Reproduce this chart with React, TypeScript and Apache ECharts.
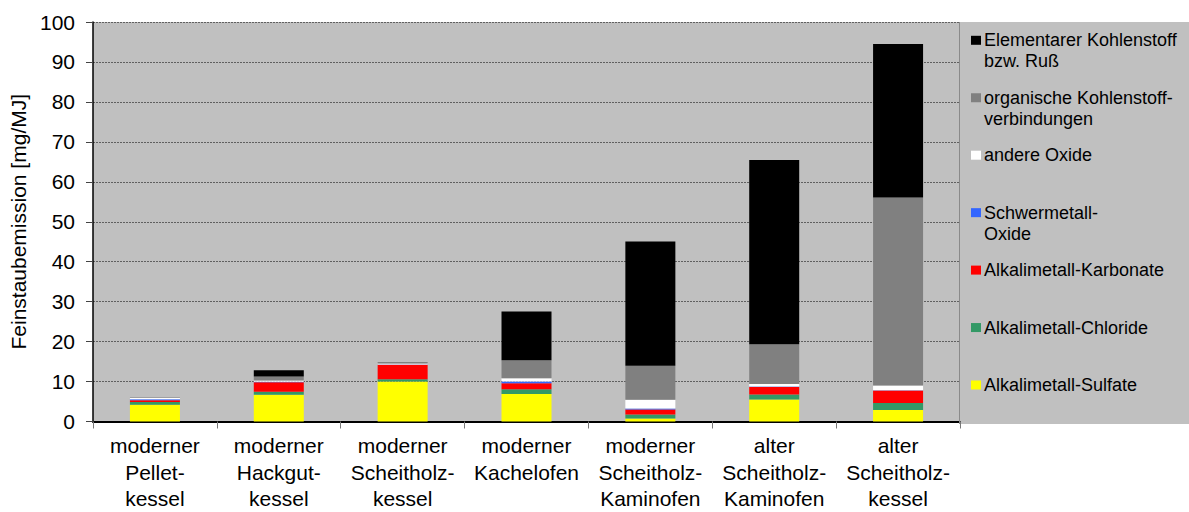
import React, { useEffect, useRef } from "react";
import * as echarts from "echarts";

const categories = [
  "moderner\nPellet-\nkessel",
  "moderner\nHackgut-\nkessel",
  "moderner\nScheitholz-\nkessel",
  "moderner\nKachelofen",
  "moderner\nScheitholz-\nKaminofen",
  "alter\nScheitholz-\nKaminofen",
  "alter\nScheitholz-\nkessel",
];

const seriesNames = [
  "Alkalimetall-Sulfate",
  "Alkalimetall-Chloride",
  "Alkalimetall-Karbonate",
  "Schwermetall-Oxide",
  "andere Oxide",
  "organische Kohlenstoffverbindungen",
  "Elementarer Kohlenstoff bzw. Ruß",
];

const legendLabels = [
  "Alkalimetall-Sulfate",
  "Alkalimetall-Chloride",
  "Alkalimetall-Karbonate",
  "Schwermetall-\nOxide",
  "andere Oxide",
  "organische Kohlenstoff-\nverbindungen",
  "Elementarer Kohlenstoff\nbzw. Ruß",
];

const seriesColors = ["#FFFF00", "#339966", "#FF0000", "#3366FF", "#FFFFFF", "#808080", "#000000"];

const sulfate = [4.2, 6.7, 10.0, 6.9, 0.75, 5.5, 2.85];
const chloride = [0.7, 0.75, 0.6, 1.2, 1.0, 1.25, 1.8];
const carbonate = [0.4, 2.4, 3.6, 1.5, 1.25, 1.9, 3.1];
const heavyMetalOxides = [0.3, 0.1, 0.05, 0.4, 0.25, 0.1, 0.1];
const otherOxides = [0.3, 0.3, 0.25, 0.8, 2.2, 0.65, 1.15];
const organicCarbon = [0.1, 1.0, 0.4, 4.55, 8.5, 9.95, 47.1];
const elementalCarbon = [0, 1.6, 0, 12.2, 31.1, 46.1, 38.4];

const seriesValues = [sulfate, chloride, carbonate, heavyMetalOxides, otherOxides, organicCarbon, elementalCarbon];

const yTicks = { min: 0, max: 100, interval: 10 };
const yAxisTitle = "Feinstaubemission [mg/MJ]";

const FONT = "'Liberation Sans', Arial, sans-serif";

export default function App() {
  const ref = useRef<HTMLDivElement>(null);

  useEffect(() => {
    if (!ref.current) return;
    const chart = echarts.init(ref.current, null, { renderer: "svg" });

    const legendTop = 40.3;
    const legendStep = 57.45;
    const legendGraphics: any[] = [
      {
        type: "rect",
        shape: { x: 960, y: 22, width: 229, height: 402 },
        style: { fill: "#C0C0C0" },
        z: 0,
      },
      {
        type: "line",
        shape: { x1: 959.5, y1: 22, x2: 959.5, y2: 424 },
        style: { stroke: "#8a8a8a", lineWidth: 1 },
        z: 5,
      },
    ];
    for (let k = 0; k < seriesNames.length; k++) {
      const idx = seriesNames.length - 1 - k;
      const cy = legendTop + k * legendStep;
      legendGraphics.push({
        type: "rect",
        shape: { x: 971, y: cy - 4.5, width: 10, height: 9 },
        style: { fill: seriesColors[idx] },
        z: 5,
      });
      legendGraphics.push({
        type: "text",
        x: 984,
        y: cy - 10.5,
        style: {
          text: legendLabels[idx],
          font: `18px ${FONT}`,
          fill: "#000",
          lineHeight: 21,
          textVerticalAlign: "top",
          textAlign: "left",
        },
        z: 5,
      });
    }

    chart.setOption({
      animation: false,
      backgroundColor: "#FFFFFF",
      textStyle: { fontFamily: FONT },
      grid: {
        left: 93,
        right: 229,
        top: 22,
        bottom: 88.5,
        show: true,
        backgroundColor: "#C0C0C0",
        borderWidth: 0,
      },
      xAxis: {
        type: "category",
        data: categories,
        axisLine: { show: true, lineStyle: { color: "#000", width: 2 } },
        axisTick: { show: true, alignWithLabel: false, length: 7, lineStyle: { color: "#777", width: 1 } },
        axisLabel: {
          interval: 0,
          fontSize: 21,
          lineHeight: 26.5,
          color: "#000",
          margin: 11,
          fontFamily: FONT,
        },
        splitLine: { show: false },
      },
      yAxis: {
        type: "value",
        min: yTicks.min,
        max: yTicks.max,
        interval: yTicks.interval,
        name: yAxisTitle,
        nameLocation: "middle",
        nameGap: 54,
        nameRotate: 90,
        nameTextStyle: { fontSize: 21, color: "#000", fontFamily: FONT },
        axisLine: { show: true, lineStyle: { color: "#000", width: 1.5 } },
        axisTick: { show: true, length: 7, lineStyle: { color: "#444" } },
        axisLabel: { fontSize: 21, color: "#000", margin: 18, fontFamily: FONT },
        splitLine: { show: true, lineStyle: { color: "#606060", type: [2, 1], width: 1 } },
      },
      series: seriesNames.map((name, i) => ({
        name,
        type: "bar",
        stack: "total",
        barWidth: 50,
        data: seriesValues[i],
        itemStyle: { color: seriesColors[i] },
        emphasis: { disabled: true },
      })),
      graphic: legendGraphics,
    });

    return () => chart.dispose();
  }, []);

  return (
    <div
      ref={ref}
      style={{ position: "fixed", left: 0, top: 0, width: 1189, height: 512 }}
    />
  );
}
